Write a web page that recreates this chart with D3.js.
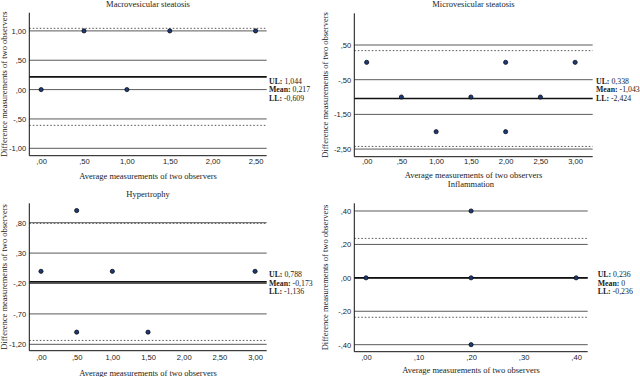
<!DOCTYPE html>
<html>
<head>
<meta charset="utf-8">
<title>Bland-Altman plots</title>
<script src="https://d3js.org/d3.v7.min.js"></script>
<style>
  body { margin: 0; background: #fff; }
  svg { display: block; font-family: "Liberation Serif", "DejaVu Serif", serif; }
  .grid { stroke: #5a5a5a; stroke-width: 1; }
  .mean { stroke: #111; stroke-width: 1.6; }
  .limit { stroke: #555; stroke-width: 1; stroke-dasharray: 1.5 2; }
  .dot { fill: #1d3a78; stroke: #000; stroke-width: 0.7; }
  .tick text { font-size: 7.6px; fill: #222; }
</style>
</head>
<body>
<div id="chart"></div>
<script>
// ---- data ----
const titles = ["Macrovesicular steatosis", "Microvesicular steatosis", "Hypertrophy", "Inflammation"];

const macroX = [0, 0.5, 1, 1.5, 2.5];
const macroY = [0, 1, 0, 1, 1];
const macroTicksX = [0, 0.5, 1, 1.5, 2, 2.5];
const macroTicksY = [1, 0.5, 0, -0.5, -1];
const macroStats = [1.044, 0.217, -0.609]; // UL, mean, LL

const microX = [0, 0.5, 1, 1.5, 2, 2, 2.5, 3];
const microY = [0, -1, -2, -1, 0, -2, -1, 0];
const microTicksX = [0, 0.5, 1, 1.5, 2, 2.5, 3];
const microTicksY = [0.5, -0.5, -1.5, -2.5];
const microStats = [0.338, -1.043, -2.424];

const hyperX = [0, 0.5, 0.5, 1, 1.5, 3];
const hyperY = [0, 1, -1, 0, -1, 0];
const hyperTicksX = [0, 0.5, 1, 1.5, 2, 2.5, 3];
const hyperTicksY = [0.8, 0.3, -0.2, -0.7, -1.2];
const hyperStats = [0.788, -0.173, -1.136];

const inflX = [0, 0.2, 0.2, 0.2, 0.4];
const inflY = [0, 0.4, 0, -0.4, 0];
const inflTicksX = [0, 0.1, 0.2, 0.3, 0.4];
const inflTicksY = [0.4, 0.2, 0, -0.2, -0.4];
const inflStats = [0.236, 0, -0.236];
const inflStatLabels = ["0,236", "0", "-0,236"];

// ---- layout ----
const W = 640, H = 377;
const svg = d3.select("#chart").append("svg").attr("width", W).attr("height", H);

const fmt = v => {
  // SPSS style: ,50  -1,00
  let s = Math.abs(v).toFixed(2).replace(".", ",");
  if (s.startsWith("0")) s = s.slice(1);
  return (v < 0 ? "-" : "") + s;
};
const fmt3 = v => v.toFixed(3).replace(".", ",");

const panels = [
  { xs: macroX, ys: macroY, tx: macroTicksX, ty: macroTicksY, st: macroStats,
    left: 29.3, right: 266.7, top: 12.7, bottom: 155.7,
    xd: [-0.138, 2.63], yd: [-1.126, 1.31], titleY: 6.5, labelX: 269, labelY: 84,
    axisLabelX: 7, tickPad: 3, xLabelOff: 23 },
  { xs: microX, ys: microY, tx: microTicksX, ty: microTicksY, st: microStats,
    left: 354.3, right: 592.7, top: 13.3, bottom: 156.7,
    xd: [-0.178, 3.253], yd: [-2.72, 1.414], titleY: 7, labelX: 596, labelY: 84,
    axisLabelX: 328, tickPad: 2, xLabelOff: 21 },
  { xs: hyperX, ys: hyperY, tx: hyperTicksX, ty: hyperTicksY, st: hyperStats,
    left: 29.3, right: 266.7, top: 203.3, bottom: 350.7,
    xd: [-0.164, 3.163], yd: [-1.305, 1.119], titleY: 196.5, labelX: 269, labelY: 277.3,
    axisLabelX: 7, tickPad: 3.5, xLabelOff: 25 },
  { xs: inflX, ys: inflY, tx: inflTicksX, ty: inflTicksY, st: inflStats, stLabels: inflStatLabels,
    left: 354.3, right: 587.7, top: 203.3, bottom: 351.7,
    xd: [-0.0223, 0.422], yd: [-0.442, 0.446], titleY: 187.3, labelX: 597.7, labelY: 277.3,
    axisLabelX: 328, tickPad: 2.5, xLabelOff: 21 }
];

panels.forEach((p, i) => {
  const x = d3.scaleLinear().domain(p.xd).range([p.left, p.right]);
  const y = d3.scaleLinear().domain(p.yd).range([p.bottom, p.top]);
  const g = svg.append("g");

  // gridlines at y ticks
  g.selectAll(".grid").data(p.ty).join("line")
    .attr("class", "grid")
    .attr("x1", p.left).attr("x2", p.right)
    .attr("y1", d => y(d)).attr("y2", d => y(d));

  // limits of agreement (dotted) and mean (thick)
  g.selectAll(".limit").data([p.st[0], p.st[2]]).join("line")
    .attr("class", "limit")
    .attr("x1", p.left).attr("x2", p.right)
    .attr("y1", d => y(d)).attr("y2", d => y(d));
  g.append("line").attr("class", "mean")
    .attr("x1", p.left).attr("x2", p.right)
    .attr("y1", y(p.st[1])).attr("y2", y(p.st[1]));

  // axes
  g.append("g").attr("transform", `translate(0,${p.bottom})`)
    .call(d3.axisBottom(x).tickValues(p.tx).tickFormat(fmt).tickSize(0).tickPadding(p.tickPad))
    .call(a => a.select(".domain").attr("stroke", "#111").attr("d", `M${p.left},0H${p.right}`));
  g.append("g").attr("transform", `translate(${p.left},0)`)
    .call(d3.axisLeft(y).tickValues(p.ty).tickFormat(fmt).tickSize(0).tickPadding(3))
    .call(a => a.select(".domain").attr("stroke", "#111").attr("d", `M0,${p.top}V${p.bottom}`));

  // points
  g.selectAll(".dot").data(p.xs.map((v, k) => [v, p.ys[k]])).join("circle")
    .attr("class", "dot")
    .attr("cx", d => x(d[0])).attr("cy", d => y(d[1])).attr("r", 2.1);

  // titles and axis labels
  const cx = (p.left + p.right) / 2;
  g.append("text").attr("x", cx).attr("y", p.titleY)
    .attr("text-anchor", "middle").attr("font-size", 8.5).attr("fill", "#222")
    .text(titles[i]);
  g.append("text").attr("x", cx).attr("y", p.bottom + p.xLabelOff)
    .attr("text-anchor", "middle").attr("font-size", 8.5).attr("fill", "#222")
    .text("Average measurements of two observers");
  g.append("text")
    .attr("transform", `translate(${p.axisLabelX},${(p.top + p.bottom) / 2}) rotate(-90)`)
    .attr("text-anchor", "middle").attr("font-size", 8.5).attr("fill", "#222")
    .text("Difference measurements of two observers");

  // UL / Mean / LL labels
  const names = ["UL:", "Mean:", "LL:"];
  names.forEach((n, k) => {
    const t = g.append("text").attr("x", p.labelX).attr("y", p.labelY + k * 8.3)
      .attr("font-size", 7.8).attr("fill", "#222");
    t.append("tspan").attr("font-weight", "bold").text(n);
    t.append("tspan").text(" " + (p.stLabels ? p.stLabels[k] : fmt3(p.st[k])));
  });
});
</script>
</body>
</html>
